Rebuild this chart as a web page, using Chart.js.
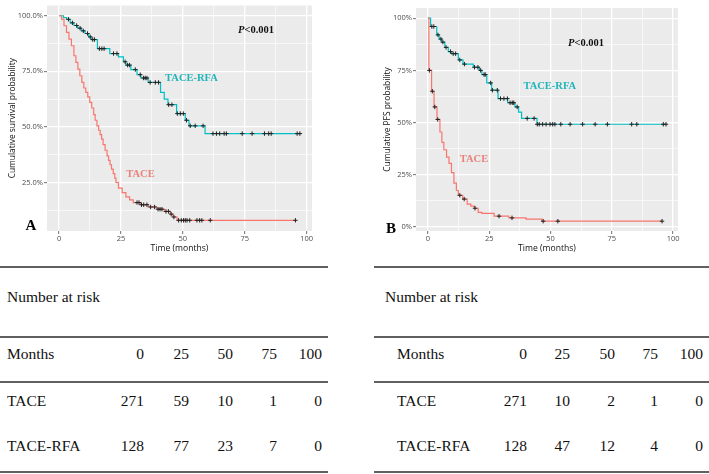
<!DOCTYPE html>
<html>
<head>
<meta charset="utf-8">
<script src="https://cdn.jsdelivr.net/npm/chart.js"></script>
<style>
  body { margin: 0; background: #fff; }
  #page { position: relative; width: 709px; height: 474px; overflow: hidden; font-family: "Liberation Serif", "Times New Roman", serif; color: #111; }
  canvas { position: absolute; top: 0; }
  #chartA { left: 0; }
  #chartB { left: 376px; }
  .rule { position: absolute; height: 2px; background: #606060; }
  .cell { position: absolute; height: 20px; line-height: 20px; font-size: 15.5px; white-space: nowrap; }
  .num { width: 50px; text-align: right; }
</style>
</head>
<body>
<div id="page">
  <canvas id="chartA" width="340" height="254"></canvas>
  <canvas id="chartB" width="324" height="254"></canvas>
</div>
<script>
// ---- data ----
// step curves: [month, survival after the drop]
const osTace = [[0,1],[1,0.985],[2,0.955],[3,0.925],[4,0.895],[5,0.865],[6,0.82],[6.8,0.79],[7.6,0.76],[8.4,0.73],
  [9.2,0.70],[10,0.675],[10.8,0.655],[11.6,0.635],[12.4,0.61],[13.2,0.585],[14,0.555],[14.6,0.53],[15.3,0.505],
  [16,0.485],[16.6,0.465],[17.2,0.445],[17.8,0.42],[18.6,0.395],[19.4,0.37],[20,0.35],[20.6,0.33],[21.2,0.31],
  [21.9,0.29],[22.5,0.27],[23,0.25],[24,0.225],[25.5,0.205],[27,0.185],[28.5,0.172],[30,0.16],[33,0.15],[36,0.14],
  [39.5,0.13],[42.5,0.12],[45,0.108],[46,0.095],[47.7,0.08],[95.5,0.08]];
const osRfa = [[0,1],[1.8,0.992],[3,0.984],[4.5,0.968],[6,0.956],[7.5,0.944],[9,0.932],[10.5,0.92],[12,0.905],[13,0.893],
  [15.5,0.852],[20.5,0.83],[24,0.815],[26,0.793],[27,0.778],[29,0.758],[31.5,0.735],[33,0.72],[36,0.70],[41,0.655],
  [42.5,0.625],[44,0.60],[47.5,0.56],[51,0.53],[52.5,0.505],[59,0.47],[97.3,0.47]];
const pfsTace = [[0,1],[0.4,0.75],[1.5,0.65],[2.5,0.575],[3.7,0.515],[4.9,0.455],[5.7,0.405],[6.5,0.37],[7.6,0.335],
  [8.6,0.305],[9.6,0.26],[10.6,0.21],[11.6,0.175],[12.4,0.152],[14.2,0.134],[16,0.11],[17.5,0.10],[19,0.09],
  [20.5,0.07],[22,0.065],[27,0.052],[33,0.044],[40,0.038],[46.5,0.028],[95.5,0.028]];
const pfsRfa = [[0,1],[1.1,0.96],[3.6,0.92],[4.6,0.90],[5.6,0.885],[6.9,0.86],[8.3,0.84],[9.6,0.83],[12.4,0.80],
  [14.3,0.78],[18.5,0.765],[21,0.75],[22,0.73],[24,0.69],[26,0.655],[28.6,0.615],[32.5,0.595],[35.5,0.575],
  [37,0.55],[38.2,0.52],[44.5,0.492],[97.1,0.492]];

// censor marks: [month, survival]
const osTaceCens = [[31.5,0.16],[32.3,0.16],[33.3,0.15],[34.2,0.15],[35.5,0.15],[37,0.14],[38.6,0.14],[40,0.13],
  [40.8,0.13],[41.6,0.13],[43.2,0.12],[44.2,0.12],[45.3,0.108],[46.4,0.095],[48.3,0.08],[49.4,0.08],[50.3,0.08],
  [51,0.08],[51.7,0.08],[52.8,0.08],[55.7,0.08],[56.8,0.08],[57.7,0.08],[61.1,0.08],[95.5,0.08]];
const osRfaCens = [[3.8,0.984],[5.4,0.968],[7.1,0.956],[8.5,0.944],[9.8,0.932],[11.5,0.92],[12.6,0.905],[13.6,0.893],
  [14.3,0.893],[16.3,0.852],[17.3,0.852],[18.2,0.852],[22,0.83],[23.4,0.83],[26.7,0.793],[27.7,0.778],[28.5,0.778],
  [30.8,0.758],[32.8,0.735],[34.1,0.72],[34.8,0.72],[35.5,0.72],[36.8,0.70],[38.9,0.70],[40.2,0.70],[44.3,0.60],
  [45.6,0.60],[47.8,0.56],[49,0.56],[50.2,0.56],[51.5,0.53],[53,0.505],[55,0.505],[58.2,0.505],[62.2,0.47],
  [63.6,0.47],[64.9,0.47],[66.7,0.47],[67.6,0.47],[74,0.47],[78,0.47],[83,0.47],[84.7,0.47],[85.7,0.47],
  [96.2,0.47],[97.3,0.47]];
const pfsTaceCens = [[0.6,0.75],[1.8,0.65],[2.8,0.575],[4,0.515],[13,0.152],[14.8,0.134],[19.2,0.09],[29,0.052],
  [34.3,0.044],[47,0.028],[53,0.028],[95.5,0.028]];
const pfsRfaCens = [[1.6,0.96],[2.4,0.96],[4.1,0.92],[5.3,0.90],[6.1,0.885],[7.4,0.86],[9.2,0.84],[10.3,0.83],
  [11.3,0.83],[13,0.80],[14.9,0.78],[19,0.765],[20.4,0.765],[21.5,0.75],[22.9,0.73],[23.4,0.73],[25.6,0.69],
  [26.3,0.655],[28.3,0.655],[29.6,0.615],[31,0.615],[32.4,0.615],[33.5,0.595],[34.4,0.595],[35,0.595],[36.4,0.575],
  [40.5,0.52],[43.3,0.52],[44.6,0.492],[45.4,0.492],[46.8,0.492],[48.2,0.492],[49.8,0.492],[50.9,0.492],
  [51.8,0.492],[54.2,0.492],[58,0.492],[63.1,0.492],[68.2,0.492],[73.2,0.492],[83.1,0.492],[85.2,0.492],
  [96,0.492],[97.1,0.492]];

// axes
const xTicks = [0, 25, 50, 75, 100];
const xMinor = [12.5, 37.5, 62.5, 87.5];
const osYTicks = [0.25, 0.5, 0.75, 1.0];
const osYLabels = ['25.0%', '50.0%', '75.0%', '100.0%'];
const osYMinor = [0.125, 0.375, 0.625, 0.875];
const pfsYTicks = [0, 0.25, 0.5, 0.75, 1.0];
const pfsYLabels = ['0%', '25%', '50%', '75%', '100%'];
const pfsYMinor = [0.125, 0.375, 0.625, 0.875];

// number at risk
const riskMonths = [0, 25, 50, 75, 100];
const riskOsTace = [271, 59, 10, 1, 0];
const riskOsRfa = [128, 77, 23, 7, 0];
const riskPfsTace = [271, 10, 2, 1, 0];
const riskPfsRfa = [128, 47, 12, 4, 0];

const RED = '#F8766D';
const TEAL = '#00BFC4';

function toXY(arr) {
    return arr.map(p => ({ x: p[0], y: p[1] }));
}

// grey panel, annotations and panel letter
const kmDecor = {
    id: 'kmDecor',
    beforeDraw(chart) {
        const a = chart.chartArea;
        const ctx = chart.ctx;
        ctx.save();
        ctx.fillStyle = '#EBEBEB';
        ctx.fillRect(a.left, a.top, a.right - a.left, a.bottom - a.top);
        ctx.restore();
    },
    afterDatasetsDraw(chart, args, opts) {
        const ctx = chart.ctx;
        const xs = chart.scales.x, ys = chart.scales.y;
        ctx.save();
        ctx.textBaseline = 'middle';
        ctx.textAlign = 'center';
        (opts.labels || []).forEach(l => {
            ctx.fillStyle = l.color;
            ctx.font = 'bold 10.5px "Liberation Serif"';
            ctx.fillText(l.text, xs.getPixelForValue(l.x), ys.getPixelForValue(l.y));
        });
        if (opts.pval) {
            const px = xs.getPixelForValue(opts.pval.x), py = ys.getPixelForValue(opts.pval.y);
            ctx.font = 'italic bold 10.5px "Liberation Serif"';
            const w1 = ctx.measureText('P').width;
            ctx.font = 'bold 10.5px "Liberation Serif"';
            const w2 = ctx.measureText('<0.001').width;
            const x0 = px - (w1 + w2) / 2;
            ctx.textAlign = 'left';
            ctx.fillStyle = '#111';
            ctx.font = 'italic bold 10.5px "Liberation Serif"';
            ctx.fillText('P', x0, py);
            ctx.font = 'bold 10.5px "Liberation Serif"';
            ctx.fillText('<0.001', x0 + w1, py);
        }
        if (opts.panel) {
            ctx.textAlign = 'center';
            ctx.fillStyle = '#000';
            ctx.font = 'bold 15px "Liberation Serif"';
            ctx.fillText(opts.panel.text, opts.panel.x, opts.panel.y);
        }
        ctx.restore();
    }
};

function kmChart(id, cfg) {
    const ctx = document.getElementById(id).getContext('2d');
    const line = (d, c) => ({ data: toXY(d), borderColor: c, borderWidth: 1.2, stepped: true, pointRadius: 0, fill: false, order: 2 });
    const marks = d => ({ type: 'scatter', data: toXY(d), pointStyle: 'cross', pointRadius: 2.2, borderColor: '#222', borderWidth: 1, order: 1 });
    const isMajor = (list, v) => list.indexOf(v) >= 0;
    const gridW = list => c => isMajor(list, c.tick.value) ? 1.3 : 0.6;
    const tickC = list => c => isMajor(list, c.tick.value) ? '#4d4d4d' : 'rgba(0,0,0,0)';

    return new Chart(ctx, {
        type: 'line',
        data: {
            datasets: [
                line(cfg.tace, RED),
                line(cfg.rfa, TEAL),
                marks(cfg.taceCens),
                marks(cfg.rfaCens)
            ]
        },
        options: {
            responsive: false,
            animation: false,
            layout: { padding: { top: cfg.padTop, right: cfg.padRight, left: 0, bottom: 0 } },
            plugins: {
                legend: { display: false },
                tooltip: { enabled: false },
                kmDecor: { labels: cfg.labels, pval: cfg.pval, panel: cfg.panel }
            },
            scales: {
                x: {
                    type: 'linear',
                    min: cfg.xMin, max: cfg.xMax,
                    afterBuildTicks: s => { s.ticks = xTicks.concat(xMinor).sort((a, b) => a - b).map(v => ({ value: v })); },
                    afterFit: s => { s.height = 23; },
                    ticks: {
                        autoSkip: false, maxRotation: 0, padding: 0,
                        color: '#4d4d4d', font: { family: 'Open Sans', size: 7.5 },
                        callback: v => isMajor(xTicks, v) ? String(v) : ''
                    },
                    grid: { color: '#fff', lineWidth: gridW(xTicks), tickLength: 3, tickColor: tickC(xTicks), tickWidth: 0.8 },
                    border: { display: false },
                    title: { display: true, text: 'Time (months)', color: '#111', padding: { top: 0, bottom: 0 },
                             font: { family: 'Open Sans', size: 8.6 } }
                },
                y: {
                    min: cfg.yMin, max: cfg.yMax,
                    afterBuildTicks: s => { s.ticks = cfg.yTicks.concat(cfg.yMinor).sort((a, b) => a - b).map(v => ({ value: v })); },
                    afterFit: s => { s.width = cfg.yWidth; },
                    ticks: {
                        autoSkip: false, padding: 1,
                        color: '#4d4d4d', font: { family: 'Open Sans', size: 7.5 },
                        callback: v => { const i = cfg.yTicks.indexOf(v); return i >= 0 ? cfg.yLabels[i] : ''; }
                    },
                    grid: { color: '#fff', lineWidth: gridW(cfg.yTicks), tickLength: 3, tickColor: tickC(cfg.yTicks), tickWidth: 0.8 },
                    border: { display: false },
                    title: { display: true, text: cfg.yTitle, color: '#111', padding: { top: cfg.yTitlePad, bottom: 0 },
                             font: { family: 'Open Sans', size: 8.4 } }
                }
            }
        },
        plugins: [kmDecor]
    });
}

kmChart('chartA', {
    tace: osTace, rfa: osRfa, taceCens: osTaceCens, rfaCens: osRfaCens,
    xMin: -4.87, xMax: 102.2, yMin: 0.032, yMax: 1.046,
    yTicks: osYTicks, yLabels: osYLabels, yMinor: osYMinor,
    yTitle: 'Cumulative survival probability', yTitlePad: 8, yWidth: 47,
    padTop: 2, padRight: 28,
    labels: [
        { text: 'TACE-RFA', x: 53.5, y: 0.718, color: '#1FB5B8' },
        { text: 'TACE', x: 32.9, y: 0.289, color: '#E8827C' }
    ],
    pval: { x: 79.6, y: 0.936 },
    panel: { text: 'A', x: 31, y: 226 }
});

kmChart('chartB', {
    tace: pfsTace, rfa: pfsRfa, taceCens: pfsTaceCens, rfaCens: pfsRfaCens,
    xMin: -4.86, xMax: 102, yMin: -0.019, yMax: 1.0486,
    yTicks: pfsYTicks, yLabels: pfsYLabels, yMinor: pfsYMinor,
    yTitle: 'Cumulative PFS probability', yTitlePad: 7, yWidth: 40,
    padTop: 8, padRight: 22,
    labels: [
        { text: 'TACE-RFA', x: 49.7, y: 0.675, color: '#1FB5B8' },
        { text: 'TACE', x: 18.8, y: 0.323, color: '#E8827C' }
    ],
    pval: { x: 64.5, y: 0.88 },
    panel: { text: 'B', x: 15, y: 229 }
});

// ---- number-at-risk tables ----
function riskTable(t) {
    const page = document.getElementById('page');
    const add = (cls, text, left, cy, width) => {
        const d = document.createElement('div');
        d.className = cls;
        d.textContent = text;
        d.style.left = left + 'px';
        d.style.top = (cy - 10) + 'px';
        if (width) d.style.width = width + 'px';
        page.appendChild(d);
    };
    [267, 337, 382, 472].forEach(y => {
        const r = document.createElement('div');
        r.className = 'rule';
        r.style.left = t.lineLeft + 'px';
        r.style.width = (t.lineRight - t.lineLeft) + 'px';
        r.style.top = (y - 1) + 'px';
        page.appendChild(r);
    });
    add('cell', 'Number at risk', t.titleX, 297);
    const rows = [
        ['Months', riskMonths, 354],
        ['TACE', t.tace, 401],
        ['TACE-RFA', t.rfa, 446]
    ];
    rows.forEach(r => {
        add('cell', r[0], t.nameX, r[2]);
        r[1].forEach((v, i) => add('cell num', String(v), t.colRight[i] - 50, r[2]));
    });
}

riskTable({ lineLeft: 0, lineRight: 328, titleX: 7, nameX: 7,
            colRight: [144, 189, 233, 277, 322], tace: riskOsTace, rfa: riskOsRfa });
riskTable({ lineLeft: 374, lineRight: 709, titleX: 385, nameX: 397,
            colRight: [527, 570, 615, 658, 703], tace: riskPfsTace, rfa: riskPfsRfa });
</script>
</body>
</html>
